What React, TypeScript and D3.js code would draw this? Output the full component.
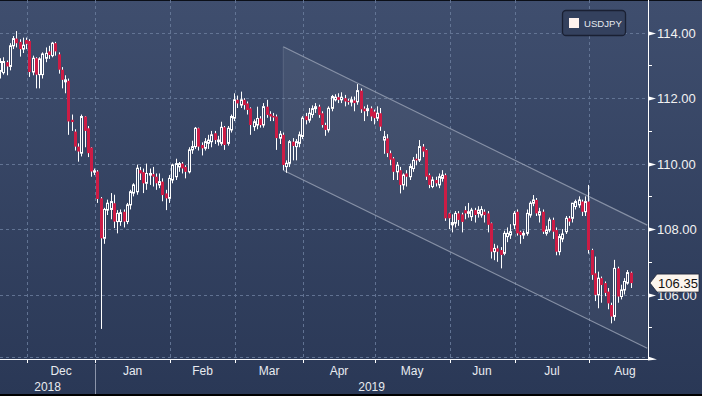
import React, { useEffect } from 'react';
import * as d3 from 'd3';

const W = 702;
const H = 396;
const PLOT_R = 648;
const PLOT_B = 359;

// Daily candles [open, high, low, close], weekdays from 21 Nov 2018
const nov2018 = [
  [112.82, 113.22, 112.6, 113.12], [112.78, 113.25, 112.72, 113.12], [113.1, 113.15, 112.7, 112.97],
  [112.97, 113.68, 112.85, 113.6], [113.6, 113.9, 113.5, 113.82], [113.82, 114.05, 113.55, 113.68],
  [113.72, 113.8, 113.27, 113.5], [113.5, 113.85, 113.38, 113.62],
];
const dec2018 = [
  [113.78, 113.85, 113.5, 113.66], [113.75, 113.8, 112.65, 112.8], [112.8, 113.3, 112.7, 113.22],
  [113.22, 113.25, 112.3, 112.72], [112.72, 113.25, 112.3, 113.2], [112.72, 113.4, 112.6, 113.35],
  [113.22, 113.55, 113.1, 113.37], [113.43, 113.6, 113.2, 113.32], [113.3, 113.72, 113.25, 113.68],
  [113.68, 113.72, 113.3, 113.43], [113.34, 113.4, 112.75, 112.87], [112.87, 112.95, 112.3, 112.56],
  [112.5, 112.7, 112.15, 112.56], [112.53, 112.6, 110.88, 111.29], [111.34, 111.5, 111.0, 111.27],
  [110.98, 111.05, 110.4, 110.52], [110.52, 110.62, 110.06, 110.37], [110.32, 111.5, 110.22, 111.44],
  [111.44, 111.45, 110.5, 111.0], [111.08, 111.15, 110.2, 110.32], [110.49, 110.5, 109.6, 109.76],
];
const jan2019 = [
  [109.74, 109.85, 109.65, 109.78], [109.76, 109.8, 108.8, 108.92], [108.94, 108.98, 104.95, 107.72],
  [107.72, 108.65, 107.55, 108.6], [108.58, 108.9, 108.43, 108.79], [108.6, 109.1, 108.3, 108.84],
  [108.79, 109.05, 108.03, 108.23], [108.23, 108.58, 107.87, 108.48], [108.23, 108.6, 108.1, 108.5],
  [108.53, 108.6, 108.05, 108.23], [108.23, 108.8, 108.15, 108.74], [108.74, 109.2, 108.6, 109.14],
  [109.1, 109.4, 109.0, 109.35], [109.14, 109.97, 109.05, 109.86], [109.8, 109.9, 109.5, 109.7],
  [109.74, 109.85, 109.1, 109.4], [109.4, 110.0, 109.2, 109.7], [109.65, 109.85, 109.35, 109.7],
  [109.68, 109.9, 109.3, 109.6], [109.6, 109.7, 109.2, 109.4], [109.35, 109.7, 109.25, 109.45],
  [109.45, 109.55, 108.85, 109.04], [109.09, 109.2, 108.58, 108.94],
];
const feb2019 = [
  [108.94, 109.65, 108.8, 109.55], [109.5, 110.0, 109.4, 109.96], [109.6, 110.15, 109.5, 110.0],
  [109.9, 110.05, 109.75, 110.0], [110.0, 110.05, 109.7, 109.85], [109.9, 109.95, 109.55, 109.75],
  [109.75, 110.5, 109.7, 110.42], [110.42, 110.7, 110.3, 110.52], [110.52, 111.12, 110.45, 111.08],
  [111.08, 111.1, 110.4, 110.52], [110.57, 110.65, 110.25, 110.47], [110.47, 110.78, 110.4, 110.67],
  [110.62, 110.88, 110.45, 110.72], [110.67, 111.0, 110.5, 110.88], [110.93, 111.0, 110.6, 110.72],
  [110.67, 110.85, 110.55, 110.72], [110.62, 111.28, 110.55, 111.11], [111.11, 111.15, 110.42, 110.57],
  [110.62, 111.15, 110.55, 111.08], [111.03, 111.5, 110.95, 111.44],
];
const mar2019 = [
  [111.39, 112.15, 111.3, 111.95], [111.95, 112.08, 111.7, 111.84], [111.79, 112.2, 111.7, 111.95],
  [111.95, 112.0, 111.65, 111.79], [111.84, 111.9, 111.5, 111.64], [111.69, 111.72, 110.88, 111.18],
  [111.13, 111.35, 111.0, 111.28], [111.18, 111.74, 111.05, 111.38], [111.38, 111.45, 111.1, 111.18],
  [111.18, 111.85, 111.1, 111.74], [111.74, 111.95, 111.4, 111.49], [111.52, 111.6, 111.3, 111.44],
  [111.46, 111.55, 111.3, 111.41], [111.44, 111.5, 110.42, 110.78], [110.78, 111.0, 110.6, 110.9],
  [110.88, 110.95, 109.8, 109.96], [109.91, 110.1, 109.72, 110.01], [110.01, 110.72, 109.9, 110.67],
  [110.67, 110.78, 110.1, 110.54], [110.52, 110.75, 110.1, 110.67], [110.62, 110.98, 110.5, 110.88],
];
const apr2019 = [
  [110.83, 111.45, 110.75, 111.39], [111.45, 111.55, 111.2, 111.33], [111.33, 111.7, 111.25, 111.54],
  [111.5, 111.78, 111.4, 111.68], [111.68, 111.85, 111.55, 111.74], [111.74, 111.8, 111.4, 111.49],
  [111.54, 111.6, 111.1, 111.18], [111.18, 111.25, 110.85, 111.03], [111.03, 111.75, 110.95, 111.69],
  [111.69, 112.1, 111.6, 112.05], [111.95, 112.12, 111.9, 112.03], [112.03, 112.15, 111.85, 111.95],
  [111.95, 112.18, 111.85, 112.03], [112.0, 112.1, 111.75, 111.9], [111.92, 111.98, 111.8, 111.88],
  [111.88, 112.05, 111.75, 111.95], [111.93, 112.05, 111.6, 111.85], [111.89, 112.43, 111.8, 112.23],
  [112.23, 112.3, 111.55, 111.66], [111.68, 111.75, 111.3, 111.6], [111.62, 111.8, 111.45, 111.68],
  [111.69, 111.75, 111.3, 111.44],
];
const may2019 = [
  [111.59, 111.65, 111.2, 111.39], [111.39, 111.75, 111.3, 111.54], [111.54, 111.7, 111.0, 111.13],
  [110.72, 111.0, 110.3, 110.82], [110.77, 110.9, 110.2, 110.32], [110.32, 110.4, 109.95, 110.12],
  [110.16, 110.2, 109.5, 109.75], [109.75, 110.05, 109.5, 109.95], [109.8, 109.9, 109.09, 109.35],
  [109.35, 109.7, 109.2, 109.65], [109.7, 109.8, 109.3, 109.6], [109.6, 110.0, 109.5, 109.91],
  [109.85, 110.2, 109.75, 110.1], [110.15, 110.3, 109.95, 110.1], [110.11, 110.72, 110.05, 110.52],
  [110.52, 110.6, 110.2, 110.37], [110.42, 110.45, 109.5, 109.6], [109.65, 109.7, 109.25, 109.35],
  [109.3, 109.6, 109.25, 109.5], [109.5, 109.6, 109.3, 109.4], [109.35, 109.7, 109.25, 109.6],
  [109.55, 109.8, 109.45, 109.65], [109.65, 109.7, 108.25, 108.33],
];
const jun2019 = [
  [108.48, 108.5, 108.0, 108.33], [108.13, 108.45, 107.9, 108.2], [108.18, 108.55, 108.05, 108.48],
  [108.48, 108.55, 108.1, 108.28], [108.45, 108.5, 107.9, 108.22], [108.58, 108.7, 108.3, 108.48],
  [108.48, 108.8, 108.35, 108.53], [108.38, 108.65, 108.25, 108.58], [108.58, 108.65, 108.2, 108.43],
  [108.48, 108.7, 108.35, 108.58], [108.43, 108.7, 108.35, 108.6], [108.53, 108.6, 108.2, 108.43],
  [108.48, 108.55, 107.9, 108.13], [108.18, 108.2, 107.1, 107.31], [107.31, 107.55, 107.05, 107.41],
  [107.41, 107.5, 107.0, 107.31], [107.36, 107.45, 106.8, 107.21], [107.26, 107.95, 107.2, 107.87],
  [107.77, 108.05, 107.6, 107.87], [107.82, 108.15, 107.7, 107.92],
];
const jul2019 = [
  [108.13, 108.55, 108.0, 108.48], [108.53, 108.6, 107.8, 107.87], [107.92, 107.95, 107.55, 107.82],
  [107.82, 107.95, 107.7, 107.87], [107.87, 108.6, 107.8, 108.48], [108.43, 108.85, 108.35, 108.79],
  [108.79, 109.04, 108.7, 108.89], [108.89, 108.95, 108.4, 108.48], [108.43, 108.65, 108.2, 108.53],
  [108.53, 108.6, 107.85, 107.92], [107.87, 108.1, 107.8, 107.97], [107.97, 108.35, 107.9, 108.28],
  [108.28, 108.35, 107.7, 107.92], [107.97, 108.05, 107.2, 107.31], [107.31, 107.85, 107.2, 107.77],
  [107.7, 108.0, 107.6, 107.85], [107.92, 108.4, 107.85, 108.33], [108.33, 108.4, 108.1, 108.23],
  [108.33, 108.8, 108.2, 108.79], [108.69, 108.9, 108.6, 108.84], [108.74, 109.0, 108.65, 108.89],
  [108.84, 108.9, 108.4, 108.53], [108.53, 109.0, 108.4, 108.84],
];
const aug2019 = [
  [108.84, 109.35, 107.25, 107.36], [107.36, 107.4, 106.45, 106.6], [106.65, 107.16, 105.8, 105.99],
  [105.99, 106.7, 105.58, 106.5], [106.5, 106.55, 105.75, 106.29], [106.35, 106.4, 105.95, 106.05],
  [106.09, 106.2, 105.55, 105.73], [105.68, 105.75, 105.12, 105.33], [105.33, 107.06, 105.2, 106.8],
  [106.8, 106.85, 105.75, 105.94], [105.94, 106.3, 105.85, 106.14], [106.14, 106.5, 106.0, 106.4],
  [106.35, 106.75, 106.3, 106.67], [106.67, 106.7, 106.2, 106.35],
];

const yTicks = [106, 108, 110, 112, 114];
const yMinorTicks = [105, 107, 109, 111, 113];
const seriesName = 'USDJPY';
const lastPrice = 106.35;

// Regression channel: anchors (22 Mar 2019 and 27 Aug 2019)
const channelDates = [new Date(2019, 2, 22), new Date(2019, 7, 27)];
const channelUpper = [113.57, 108.12];
const channelLower = [109.8, 104.36];

const monthStarts = [
  new Date(2018, 11, 1), new Date(2019, 0, 1), new Date(2019, 1, 1), new Date(2019, 2, 1),
  new Date(2019, 3, 1), new Date(2019, 4, 1), new Date(2019, 5, 1), new Date(2019, 6, 1),
  new Date(2019, 7, 1), new Date(2019, 8, 1),
];
const years = [2018, 2019];

const isWeekday = (d: Date) => d.getDay() !== 0 && d.getDay() !== 6;
const allDates = d3.timeDay
  .range(new Date(2018, 10, 21), new Date(2019, 8, 15))
  .filter(isWeekday);
const idxOf = (d: Date) => allDates.findIndex((a) => a >= d);

const raw = [
  ...nov2018, ...dec2018, ...jan2019, ...feb2019, ...mar2019,
  ...apr2019, ...may2019, ...jun2019, ...jul2019, ...aug2019,
];
const candles = raw.map((v, i) => ({ i, date: allDates[i], o: v[0], h: v[1], l: v[2], c: v[3] }));

const STEP = 3.25;
const x = d3.scaleLinear().domain([0, 199]).range([0.5, 0.5 + STEP * 199]);
const y = d3.scaleLinear().domain([104, 115]).range([360, 0]);

const FONT = 'Liberation Sans, Arial, Helvetica, sans-serif';
const RED = '#cc1c45';

export default function App() {
  useEffect(() => {
    document.body.style.margin = '0';
    document.body.style.background = '#2b3957';
  }, []);

  const fmt = d3.format('.2f');
  const monthFmt = d3.timeFormat('%b');

  const monthTicks = monthStarts.map((m) => ({ m, xp: x(idxOf(m)) + 0.5 }));
  const monthLabels = monthTicks.slice(0, -1).map((t, k) => ({
    label: monthFmt(t.m),
    cx: (t.xp + monthTicks[k + 1].xp) / 2,
    xp: t.xp,
  }));
  const janTick = monthTicks[1].xp;
  const yearLabels = [
    { label: String(years[0]), cx: janTick / 2 },
    { label: String(years[1]), cx: (janTick + PLOT_R) / 2 },
  ];

  const cx0 = x(idxOf(channelDates[0]));
  const cx1 = x(idxOf(channelDates[1]));
  const chan = [
    [cx0, y(channelUpper[0])],
    [cx1, y(channelUpper[1])],
    [cx1, y(channelLower[1])],
    [cx0, y(channelLower[0])],
  ];
  const chanPath = d3.line()(chan as [number, number][]) + 'Z';

  const ly = y(lastPrice);

  return (
    <svg width={W} height={H} style={{ position: 'absolute', left: 0, top: 0, display: 'block' }}>
      <defs>
        <linearGradient id="bg" x1="0" y1="0" x2="0" y2="1">
          <stop offset="0" stopColor="#3f4e6e" />
          <stop offset="1" stopColor="#2a3856" />
        </linearGradient>
        <clipPath id="plot">
          <rect x={0} y={0} width={PLOT_R} height={PLOT_B} />
        </clipPath>
      </defs>
      <rect x={0} y={0} width={W} height={H} fill="url(#bg)" />
      <rect x={0} y={0} width={W} height={1} fill="#0b0f18" />

      {/* grid */}
      <g stroke="#6a7c9c" strokeWidth={1} strokeDasharray="3,3" opacity={0.85}>
        {yTicks.map((t) => (
          <line key={t} x1={0} x2={PLOT_R} y1={Math.round(y(t)) + 0.5} y2={Math.round(y(t)) + 0.5} />
        ))}
        <line x1={0} x2={PLOT_R} y1={PLOT_B - 1.5} y2={PLOT_B - 1.5} />
        {monthTicks.slice(0, -1).map((t, k) => (
          <line key={k} x1={Math.round(t.xp) + 0.5} x2={Math.round(t.xp) + 0.5} y1={0} y2={PLOT_B} />
        ))}
      </g>

      {/* channel */}
      <g clipPath="url(#plot)">
        <path d={chanPath} fill="rgba(255,255,255,0.05)" stroke="none" />
        <line x1={cx0} y1={chan[0][1]} x2={cx1} y2={chan[1][1]} stroke="#9aa3b6" strokeWidth={1.2} opacity={0.8} />
        <line x1={cx0} y1={chan[3][1]} x2={cx1} y2={chan[2][1]} stroke="#9aa3b6" strokeWidth={1.2} opacity={0.8} />
        <line x1={cx0} y1={chan[0][1]} x2={cx0} y2={chan[3][1]} stroke="#9aa3b6" strokeWidth={0.8} opacity={0.35} />
      </g>

      {/* candles */}
      <g clipPath="url(#plot)">
        {candles.map((d) => {
          const cx = Math.floor(x(d.i)) + 0.5;
          const up = d.c >= d.o;
          const top = y(Math.max(d.o, d.c));
          const bot = y(Math.min(d.o, d.c));
          const bh = Math.max(bot - top, 1);
          if (up) {
            return (
              <g key={d.i}>
                <line x1={cx} x2={cx} y1={y(d.h)} y2={top} stroke="#ffffff" strokeWidth={1} />
                <line x1={cx} x2={cx} y1={top + bh} y2={y(d.l)} stroke="#ffffff" strokeWidth={1} />
                <rect x={cx - 1} y={top} width={2} height={bh} fill="none" stroke="#ffffff" strokeWidth={1} />
              </g>
            );
          }
          return (
            <g key={d.i}>
              <line x1={cx} x2={cx} y1={y(d.h)} y2={y(d.l)} stroke="#ffffff" strokeWidth={1} />
              <rect x={cx - 1.5} y={top} width={3} height={bh} fill={RED} />
            </g>
          );
        })}
      </g>

      {/* right axis */}
      <line x1={PLOT_R + 0.5} x2={PLOT_R + 0.5} y1={0} y2={PLOT_B + 0.5} stroke="#ffffff" strokeWidth={1} />
      {yMinorTicks.map((t) => (
        <line key={t} x1={PLOT_R} x2={PLOT_R + 4} y1={Math.round(y(t)) + 0.5} y2={Math.round(y(t)) + 0.5} stroke="#ffffff" />
      ))}
      {yTicks.map((t) => {
        const yy = Math.round(y(t)) + 0.5;
        return (
          <g key={t}>
            <path d={`M${PLOT_R},${yy - 2.2}L${PLOT_R + 8},${yy}L${PLOT_R},${yy + 2.2}Z`} fill="#ffffff" />
            <text x={657} y={yy + 4.6} fill="#f2f2f2" fontFamily={FONT} fontSize={13}>
              {fmt(t)}
            </text>
          </g>
        );
      })}

      {/* bottom axis */}
      <line x1={0} x2={PLOT_R} y1={PLOT_B + 0.5} y2={PLOT_B + 0.5} stroke="#ffffff" strokeWidth={1} />
      <path d={`M${PLOT_R},${PLOT_B - 2.5}L${PLOT_R + 9},${PLOT_B + 0.5}L${PLOT_R},${PLOT_B + 1.5}Z`} fill="#ffffff" />
      {monthTicks.slice(0, -1).map((t, k) => (
        <line key={k} x1={Math.round(t.xp) + 0.5} x2={Math.round(t.xp) + 0.5} y1={PLOT_B} y2={PLOT_B + 4} stroke="#ffffff" />
      ))}
      {monthLabels.map((m, k) => (
        <text key={k} x={m.cx} y={375} textAnchor="middle" fill="#e8ebf0" fontFamily={FONT} fontSize={12}>
          {m.label}
        </text>
      ))}
      <line x1={Math.round(janTick) + 0.5} x2={Math.round(janTick) + 0.5} y1={364} y2={394} stroke="#8c95aa" strokeWidth={1} />
      {yearLabels.map((yl) => (
        <text key={yl.label} x={yl.cx} y={391} textAnchor="middle" fill="#e8ebf0" fontFamily={FONT} fontSize={12}>
          {yl.label}
        </text>
      ))}
      <rect x={0} y={394} width={W} height={2} fill="#000000" />

      {/* last price label */}
      <path
        d={`M650,${ly}L657,${ly - 9}L699,${ly - 9}L699,${ly + 9}L657,${ly + 9}Z`}
        fill="#fdf6ee"
        stroke="#1d2336"
        strokeWidth={0.8}
      />
      <text x={678} y={ly + 4.6} textAnchor="middle" fill="#111111" fontFamily={FONT} fontSize={13}>
        {fmt(lastPrice)}
      </text>

      {/* legend */}
      <rect x={562.5} y={10.5} width={63} height={25} rx={3.5} fill="#34415e" stroke="#1a2033" strokeWidth={1.3} />
      <rect x={569} y={18} width={10} height={10} fill="#fff3ee" />
      <text x={584} y={27} fill="#e6e9ef" fontFamily={FONT} fontSize={9.6}>
        {seriesName}
      </text>
    </svg>
  );
}
